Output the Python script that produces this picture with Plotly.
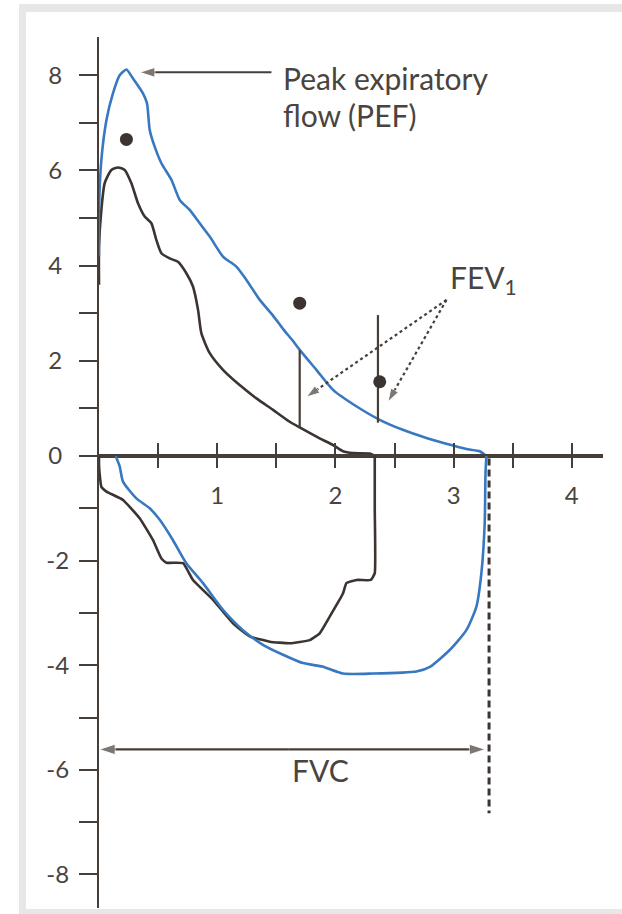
import plotly.graph_objects as go

# ---- expiratory limb (positive flow) ----
exp_blue_x = [0.0, 0.0, 0.02, 0.063, 0.118, 0.175, 0.232, 0.288, 0.372, 0.406, 0.429, 0.471,
              0.528, 0.613, 0.683, 0.767, 0.852, 0.937, 1.049, 1.162, 1.247, 1.36, 1.472,
              1.56, 1.64, 1.698, 1.839, 1.98, 2.18, 2.375, 2.57, 2.77, 2.995, 3.12, 3.22, 3.277]
exp_blue_y = [4.19, 5.17, 6.22, 7.06, 7.62, 8.0, 8.12, 7.93, 7.62, 7.41, 6.85, 6.5,
              6.15, 5.8, 5.38, 5.17, 4.89, 4.61, 4.19, 3.98, 3.70, 3.28, 2.95,
              2.66, 2.42, 2.23, 1.81, 1.39, 1.04, 0.76, 0.55, 0.38, 0.22, 0.14, 0.1, 0.0]

exp_black_x = [0.0, 0.0, 0.02, 0.048, 0.105, 0.161, 0.217, 0.274, 0.33, 0.387, 0.443, 0.485,
               0.528, 0.598, 0.668, 0.739, 0.795, 0.838, 0.866, 0.937, 1.049, 1.19, 1.332,
               1.472, 1.613, 1.698, 1.867, 1.98, 2.064, 2.15, 2.29, 2.333]
exp_black_y = [3.6, 4.4, 5.17, 5.73, 6.01, 6.06, 6.01, 5.73, 5.31, 5.03, 4.89, 4.54,
               4.26, 4.15, 4.08, 3.84, 3.56, 3.07, 2.58, 2.16, 1.81, 1.49, 1.21,
               0.97, 0.72, 0.6, 0.37, 0.23, 0.1, 0.06, 0.05, 0.0]

# ---- inspiratory limb (negative flow) ----
insp_blue_x = [0.141, 0.175, 0.203, 0.316, 0.429, 0.514, 0.626, 0.739, 0.88, 1.049, 1.218,
               1.387, 1.557, 1.726, 1.895, 2.064, 2.318, 2.685, 2.80, 2.967, 3.108, 3.193,
               3.235, 3.263, 3.27, 3.277]
insp_blue_y = [0.0, -0.2, -0.49, -0.81, -1.0, -1.22, -1.61, -2.05, -2.43, -2.94, -3.33,
               -3.61, -3.80, -3.96, -4.03, -4.16, -4.16, -4.12, -4.03, -3.71, -3.33, -2.88,
               -2.24, -1.29, -0.33, 0.0]

insp_black_x = [2.333, 2.333, 2.333, 2.30, 2.18, 2.093, 2.064, 1.952, 1.867, 1.783, 1.613,
                1.444, 1.275, 1.134, 0.965, 0.795, 0.711, 0.570, 0.528, 0.457, 0.344, 0.203,
                0.063, 0.02, 0.005, 0.0, 0.0]
insp_black_y = [0.0, -1.0, -2.24, -2.37, -2.37, -2.43, -2.63, -3.07, -3.39, -3.52, -3.58,
                -3.55, -3.45, -3.2, -2.75, -2.37, -2.05, -2.04, -1.96, -1.61, -1.19, -0.84,
                -0.68, -0.59, -0.33, -0.17, 0.0]

# predicted values
pred_x = [0.232, 1.698, 2.375, 3.32]
pred_y = [6.65, 3.21, 1.56, -0.08]

# FEV1 markers (volume, flow from, flow to)
fev1_x = [1.698, 2.36]
fev1_lo = [0.6, 0.7]
fev1_hi = [2.22, 2.96]

fvc_volume = 3.30
fvc_arrow_flow = -5.61
fvc_line_bottom = -6.83

# axis ticks
x_major = [1, 2, 3, 4]
x_minor = [0.5, 1.5, 2.5, 3.5]
y_pos_major = [0, 2, 4, 6, 8]
y_pos_minor = [1, 3, 5, 7]
y_neg_major = [-2, -4, -6, -8]
y_neg_labels = ["-2", "-4", "-6", "-8"]
y_neg_minor = [-1, -3, -5, -7]

INK = "#3b3430"
AXIS = "#463e39"
TEXT = "#4a4440"
BLUE = "#3878c0"
FONT = "Lato"

fig = go.Figure()

fig.add_trace(go.Scatter(x=exp_black_x, y=exp_black_y, mode="lines",
                         line=dict(color=INK, width=2.6, shape="spline", smoothing=0.6),
                         xaxis="x", yaxis="y", hoverinfo="skip"))
fig.add_trace(go.Scatter(x=insp_black_x, y=insp_black_y, mode="lines",
                         line=dict(color=INK, width=2.6, shape="spline", smoothing=0.4),
                         xaxis="x", yaxis="y2", hoverinfo="skip"))
fig.add_trace(go.Scatter(x=exp_blue_x, y=exp_blue_y, mode="lines",
                         line=dict(color=BLUE, width=2.6, shape="spline", smoothing=0.6),
                         xaxis="x", yaxis="y", hoverinfo="skip"))
fig.add_trace(go.Scatter(x=insp_blue_x, y=insp_blue_y, mode="lines",
                         line=dict(color=BLUE, width=2.6, shape="spline", smoothing=0.6),
                         xaxis="x", yaxis="y2", hoverinfo="skip"))

# FEV1 vertical bars
for xv, lo, hi in zip(fev1_x, fev1_lo, fev1_hi):
    fig.add_trace(go.Scatter(x=[xv, xv], y=[lo, hi], mode="lines",
                             line=dict(color=AXIS, width=2.2),
                             xaxis="x", yaxis="y", hoverinfo="skip"))

# FVC dashed line
fig.add_trace(go.Scatter(x=[fvc_volume, fvc_volume], y=[-0.05, fvc_line_bottom], mode="lines",
                         line=dict(color=INK, width=3, dash="7px,4px"),
                         xaxis="x", yaxis="y2", hoverinfo="skip"))

# predicted points
fig.add_trace(go.Scatter(x=pred_x, y=pred_y, mode="markers", cliponaxis=False,
                         marker=dict(color=INK, size=13, symbol="circle"),
                         xaxis="x", yaxis="y", hoverinfo="skip"))

# PEF arrow
fig.add_trace(go.Scatter(x=[1.459, 0.344], y=[8.06, 8.06], mode="lines+markers",
                         line=dict(color=AXIS, width=2),
                         marker=dict(symbol="arrow", size=[0, 16], angleref="previous",
                                     color=AXIS),
                         xaxis="x", yaxis="y", hoverinfo="skip"))

# FEV1 pointers
fig.add_trace(go.Scatter(x=[2.94, 1.755, None, 2.94, 2.445],
                         y=[3.28, 1.24, None, 3.28, 1.14], mode="lines+markers",
                         line=dict(color=AXIS, width=2.2, dash="dot"),
                         marker=dict(symbol="arrow", size=[0, 14, 0, 0, 14], angleref="previous",
                                     color=AXIS),
                         xaxis="x", yaxis="y", hoverinfo="skip"))

# FVC double-headed arrow
fig.add_trace(go.Scatter(x=[1.6, 0.0, None, 1.6, 3.27],
                         y=[fvc_arrow_flow] * 2 + [None] + [fvc_arrow_flow] * 2,
                         mode="lines+markers", cliponaxis=False,
                         line=dict(color=AXIS, width=2.2),
                         marker=dict(symbol="arrow", size=[0, 17, 0, 0, 17], angleref="previous",
                                     color=AXIS),
                         xaxis="x", yaxis="y2", hoverinfo="skip"))

# carrier for the upward half of the volume ticks
fig.add_trace(go.Scatter(x=[None], y=[None], xaxis="x2", yaxis="y2", hoverinfo="skip"))

L, R, T, B = 99, 19, 37, 6
W, H = 622, 914
pw, ph = W - L - R, H - T - B
zero_px = 456
split = 1 - (zero_px - T) / ph
x_max = pw / 118.2
y_top = (zero_px - T) / 47.6
y_bot = -(H - B - zero_px) / 52.3

axis_common = dict(showgrid=False, zeroline=False, showline=True, linecolor=AXIS, linewidth=2.2,
                   tickcolor=AXIS, tickwidth=2.2, ticks="outside", automargin=False,
                   tickfont=dict(family=FONT, size=24, color=TEXT))


def minor_ticks(vals, length):
    return dict(tickvals=vals, ticks="outside", ticklen=length, tickwidth=2.2,
                tickcolor=AXIS, showgrid=False)


fig.update_layout(
    width=W, height=H,
    margin=dict(l=L, r=R, t=T, b=B, autoexpand=False),
    paper_bgcolor="white", plot_bgcolor="rgba(0,0,0,0)",
    showlegend=False,
    xaxis=dict(domain=[0, 1], range=[0, x_max], anchor="y", tickvals=x_major,
               ticklen=10, ticklabelstandoff=7, minor=minor_ticks(x_minor, 10), **axis_common),
    xaxis2=dict(domain=[0, 1], range=[0, x_max], anchor="y2", side="top", tickvals=x_major,
                showticklabels=False, ticklen=11, minor=minor_ticks(x_minor, 11),
                **{k: v for k, v in axis_common.items() if k != "tickfont"}),
    yaxis=dict(domain=[split, 1], range=[0, y_top], anchor="x", tickvals=y_pos_major,
               ticklen=18, ticklabelstandoff=12, minor=minor_ticks(y_pos_minor, 18),
               **axis_common),
    yaxis2=dict(domain=[0, split], range=[y_bot, 0], anchor="x", tickvals=y_neg_major,
                ticktext=y_neg_labels, ticklen=18, ticklabelstandoff=5,
                minor=minor_ticks(y_neg_minor, 18), **axis_common),
)


def px_to_paper_x(px):
    return (px - L) / pw


def px_to_paper_y(py):
    return (H - B - py) / ph


# page frame
fig.add_shape(type="rect", xref="paper", yref="paper", layer="below",
              x0=px_to_paper_x(19), x1=px_to_paper_x(650), y0=px_to_paper_y(940), y1=px_to_paper_y(4),
              fillcolor="#e7e7e7", line=dict(width=0))
fig.add_shape(type="rect", xref="paper", yref="paper", layer="below",
              x0=px_to_paper_x(26), x1=px_to_paper_x(650), y0=px_to_paper_y(909), y1=px_to_paper_y(12),
              fillcolor="white", line=dict(width=0))

text_font = dict(family=FONT, size=30, color=TEXT)
fig.add_annotation(x=1.543, y=7.95, xref="x", yref="y", text="Peak expiratory",
                   showarrow=False, xanchor="left", yanchor="middle", font=text_font)
fig.add_annotation(x=1.543, y=7.17, xref="x", yref="y", text="flow (PEF)",
                   showarrow=False, xanchor="left", yanchor="middle", font=text_font)
fig.add_annotation(x=2.95, y=3.72, xref="x", yref="y", text="FEV<sub>1</sub>",
                   showarrow=False, xanchor="left", yanchor="middle", font=text_font)
fig.add_annotation(x=1.87, y=-6.0, xref="x", yref="y2", text="FVC",
                   showarrow=False, xanchor="center", yanchor="middle", font=text_font)

fig.write_html("out.html")
